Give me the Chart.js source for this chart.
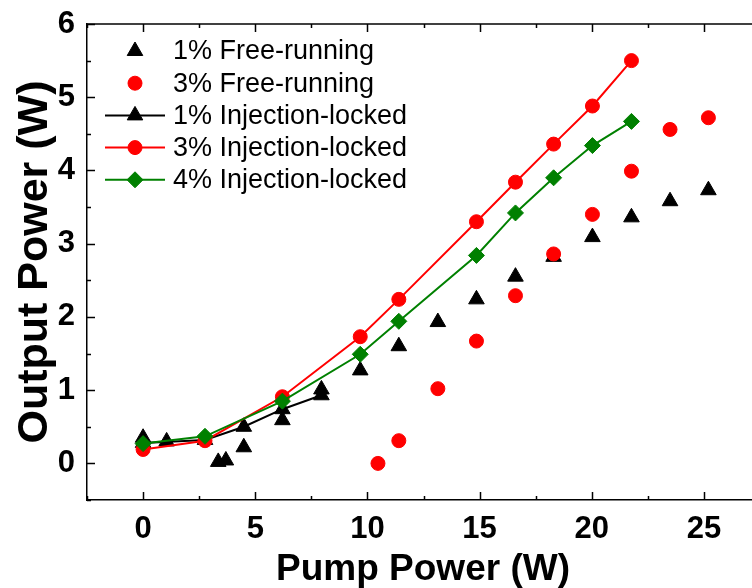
<!DOCTYPE html>
<html>
<head>
<meta charset="utf-8">
<script src="https://cdn.jsdelivr.net/npm/chart.js@4.4.1/dist/chart.umd.min.js"></script>
<style>
  html, body { margin: 0; padding: 0; background: #fff; overflow: hidden; }
  #wrap { width: 770px; height: 588px; }
</style>
</head>
<body>
<div id="wrap"><canvas id="pumpChart" width="770" height="588"></canvas></div>
<script>
// data
const pump1FR = [0, 1.05, 3.35, 3.69, 4.49, 6.21, 7.95, 9.68, 11.4, 13.14, 14.86, 16.6, 18.3, 20.03, 21.77, 23.49, 25.2];
const out1FR  = [0.35, 0.30, 0.02, 0.04, 0.22, 0.59, 1.01, 1.27, 1.60, 1.93, 2.24, 2.55, 2.82, 3.09, 3.36, 3.58, 3.73];

const pump3FR = [10.47, 11.4, 13.14, 14.86, 16.6, 18.3, 20.03, 21.77, 23.49, 25.2];
const out3FR  = [0.0, 0.31, 1.02, 1.67, 2.29, 2.86, 3.40, 3.99, 4.56, 4.72];

const pump1IL = [0, 2.76, 4.49, 6.21, 7.95];
const out1IL  = [0.28, 0.32, 0.50, 0.74, 0.93];

const pumpIL  = [0, 2.76, 6.21, 9.68, 11.4, 14.86, 16.6, 18.3, 20.03, 21.77];
const out3IL  = [0.19, 0.31, 0.91, 1.73, 2.24, 3.30, 3.84, 4.36, 4.88, 5.50];
const out4IL  = [0.27, 0.37, 0.85, 1.49, 1.94, 2.84, 3.42, 3.90, 4.34, 4.67];

const xTicks = [0, 5, 10, 15, 20, 25];
const yTicks = [0, 1, 2, 3, 4, 5, 6];

const legendNames = ['1% Free-running', '3% Free-running', '1% Injection-locked', '3% Injection-locked', '4% Injection-locked'];

function pts(xs, ys) {
    return xs.map((x, i) => ({ x: x, y: ys[i] }));
}

// ticks pointing inside, plus the top frame line
const frameTicks = {
    id: 'frameTicks',
    afterDraw(chart) {
        const c = chart.ctx;
        const a = chart.chartArea;
        const xs = chart.scales.x, ys = chart.scales.y;
        c.save();
        c.strokeStyle = '#000';
        c.lineWidth = 1.5;
        c.beginPath();
        c.moveTo(a.left, a.top);
        c.lineTo(a.right, a.top);
        c.stroke();
        c.beginPath();
        for (let v = -2.5; v <= 27.5; v += 2.5) {
            const px = Math.round(xs.getPixelForValue(v)) + 0.5;
            const len = (v % 5 === 0) ? 8 : 4;
            c.moveTo(px, a.bottom); c.lineTo(px, a.bottom - len);
            c.moveTo(px, a.top); c.lineTo(px, a.top + len);
        }
        for (let v = -0.5; v <= 6; v += 0.5) {
            const py = Math.round(ys.getPixelForValue(v)) + 0.5;
            const len = (v % 1 === 0) ? 8 : 4;
            c.moveTo(a.left, py); c.lineTo(a.left + len, py);
        }
        c.stroke();
        c.restore();
    }
};

// titles and the legend (line + marker samples)
const extras = {
    id: 'extras',
    afterDraw(chart) {
        const c = chart.ctx;
        const a = chart.chartArea;
        c.save();
        c.fillStyle = '#000';
        c.font = 'bold 37px "Liberation Sans", Arial, sans-serif';
        c.textAlign = 'center';
        c.textBaseline = 'alphabetic';
        c.fillText('Pump Power (W)', 423, 580);
        c.save();
        c.translate(47, 262);
        c.rotate(-Math.PI / 2);
        c.font = 'bold 43px "Liberation Sans", Arial, sans-serif';
        c.fillText('Output Power (W)', 0, 0);
        c.restore();

        c.font = '27px "Liberation Sans", Arial, sans-serif';
        c.textAlign = 'left';
        c.textBaseline = 'middle';
        chart.data.datasets.forEach((ds, row) => {
            const y = 51 + row * 32.2;
            if (ds.showLine) {
                c.strokeStyle = ds.borderColor;
                c.lineWidth = 2;
                c.beginPath();
                c.moveTo(105, y); c.lineTo(165, y);
                c.stroke();
            }
            c.fillStyle = ds.pointBackgroundColor;
            c.strokeStyle = ds.pointBackgroundColor;
            c.lineWidth = 1;
            Chart.helpers.drawPoint(c, { pointStyle: ds.pointStyle, radius: ds.pointRadius, borderWidth: 1 }, 135, y);
            c.fillStyle = '#000';
            c.fillText(legendNames[row], 173, y + 1);
        });
        c.restore();
    }
};

const ctx = document.getElementById('pumpChart').getContext('2d');

new Chart(ctx, {
    type: 'scatter',
    data: {
        datasets: [{
            label: legendNames[0],
            data: pts(pump1FR, out1FR),
            pointStyle: 'triangle',
            pointRadius: 9,
            pointBackgroundColor: '#000',
            pointBorderColor: '#000',
            pointBorderWidth: 1,
            showLine: false,
            order: 4
        }, {
            label: legendNames[1],
            data: pts(pump3FR, out3FR),
            pointStyle: 'circle',
            pointRadius: 7,
            pointBackgroundColor: '#ff0000',
            pointBorderColor: '#ff0000',
            pointBorderWidth: 1,
            showLine: false,
            order: 3
        }, {
            label: legendNames[2],
            data: pts(pump1IL, out1IL),
            borderColor: '#000',
            borderWidth: 2,
            pointStyle: 'triangle',
            pointRadius: 9,
            pointBackgroundColor: '#000',
            pointBorderColor: '#000',
            pointBorderWidth: 1,
            showLine: true,
            order: 2
        }, {
            label: legendNames[3],
            data: pts(pumpIL, out3IL),
            borderColor: '#ff0000',
            borderWidth: 2,
            pointStyle: 'circle',
            pointRadius: 7,
            pointBackgroundColor: '#ff0000',
            pointBorderColor: '#ff0000',
            pointBorderWidth: 1,
            showLine: true,
            order: 1
        }, {
            label: legendNames[4],
            data: pts(pumpIL, out4IL),
            borderColor: '#008000',
            borderWidth: 2,
            pointStyle: 'rectRot',
            pointRadius: 8,
            pointBackgroundColor: '#008000',
            pointBorderColor: '#008000',
            pointBorderWidth: 1,
            showLine: true,
            order: 0
        }]
    },
    options: {
        responsive: false,
        animation: false,
        layout: { padding: { left: 0, top: 24, right: 10, bottom: 0 } },
        plugins: {
            legend: { display: false },
            tooltip: { enabled: false }
        },
        scales: {
            x: {
                type: 'linear',
                min: -2.5,
                max: 27.5,
                afterBuildTicks: s => { s.ticks = xTicks.map(v => ({ value: v })); },
                afterFit: s => { s.height = 88; s.paddingLeft = 0; s.paddingRight = 0; },
                grid: { display: false, drawTicks: false },
                border: { display: true, color: '#000', width: 1.5 },
                ticks: {
                    padding: 11,
                    color: '#000',
                    font: { family: '"Liberation Sans", Arial, sans-serif', size: 31, weight: 'bold' }
                }
            },
            y: {
                type: 'linear',
                min: -0.5,
                max: 6,
                afterBuildTicks: s => { s.ticks = yTicks.map(v => ({ value: v })); },
                afterFit: s => { s.width = 87; s.paddingTop = 0; s.paddingBottom = 0; },
                grid: { display: false, drawTicks: false },
                border: { display: true, color: '#000', width: 1.5 },
                ticks: {
                    padding: 12,
                    color: '#000',
                    font: { family: '"Liberation Sans", Arial, sans-serif', size: 31, weight: 'bold' }
                }
            }
        }
    },
    plugins: [frameTicks, extras]
});
</script>
</body>
</html>
